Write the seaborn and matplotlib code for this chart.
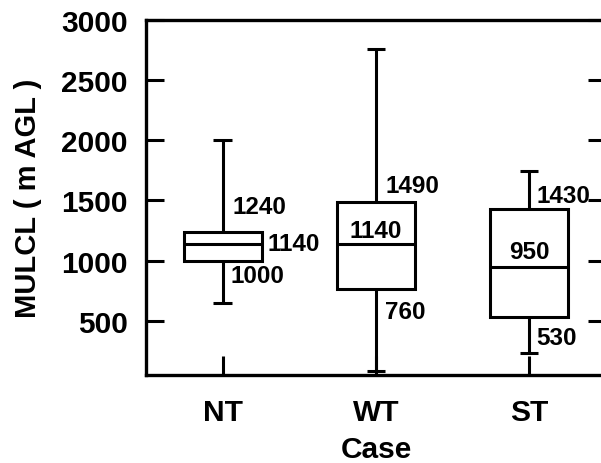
import matplotlib
matplotlib.use("Agg")
import matplotlib.pyplot as plt
import seaborn as sns
import pandas as pd

# Five-number summaries per case: whisker low, Q1, median, Q3, whisker high
cases = ["NT", "WT", "ST"]
nt_vals = [650, 1000, 1140, 1240, 2000]
wt_vals = [80, 760, 1140, 1490, 2760]
st_vals = [230, 530, 950, 1430, 1740]

# Which summary values get printed next to each box, and where (pixel offsets, alignment)
label_specs = {
    "NT": [(1240, 10, 25, "left"), (1140, 45, 0, "left"), (1000, 8, -15, "left")],
    "WT": [(1490, 10, 16, "left"), (1140, 0, 13, "center"), (760, 9, -22, "left")],
    "ST": [(1430, 7, 13, "left"), (950, 0, 15, "center"), (530, 7, -20, "left")],
}

y_ticks = [500, 1000, 1500, 2000, 2500, 3000]

BOX_WIDTH = 0.51
CAP_WIDTH = 0.12
LINE_W = 2.2

sns.set_style("white")
plt.rcParams["font.family"] = ["Liberation Sans", "DejaVu Sans"]
plt.rcParams["font.weight"] = "bold"

groups = [nt_vals, wt_vals, st_vals]
df = pd.DataFrame({
    "Case": [c for c, v in zip(cases, groups) for _ in v],
    "MULCL": nt_vals + wt_vals + st_vals,
})

fig = plt.figure(figsize=(6.01, 4.64), dpi=100)
ax = fig.add_axes([0.243, 0.19, 0.765, 0.765])

sns.boxplot(
    data=df, x="Case", y="MULCL", order=cases,
    whis=(0, 100), width=BOX_WIDTH, color="white", linecolor="black",
    linewidth=LINE_W, saturation=1, fliersize=0, showcaps=False, ax=ax,
)

# Short whisker caps at each group's extremes
for i, vals in enumerate(groups):
    ax.hlines([min(vals), max(vals)], i - CAP_WIDTH / 2, i + CAP_WIDTH / 2,
              colors="black", linewidth=LINE_W, zorder=3)

ax.set_ylim(50, 3000)
ax.set_xlim(-0.5, 2.5)
ax.set_yticks(y_ticks)
ax.set_yticklabels([str(t) for t in y_ticks], fontsize=21.5, fontweight="bold")
ax.set_xticks(range(len(cases)))
ax.set_xticklabels(cases, fontsize=21.5, fontweight="bold")

ax.tick_params(axis="y", direction="in", length=13, width=2.2, pad=13,
               left=True, right=True, colors="black")
ax.tick_params(axis="x", direction="in", length=14, width=2.2, pad=17,
               bottom=True, colors="black")

for side in ["left", "right", "top", "bottom"]:
    ax.spines[side].set_visible(True)
    ax.spines[side].set_linewidth(2.4)
    ax.spines[side].set_color("black")

ax.set_ylabel("MULCL ( m AGL )", fontsize=21, fontweight="bold",
              color="black", labelpad=14)
ax.set_xlabel("Case", fontsize=21.5, fontweight="bold", color="black",
              labelpad=6)

for i, case in enumerate(cases):
    for val, dx, dy, ha in label_specs[case]:
        ax.annotate(
            str(val), xy=(i, val), xytext=(dx * 0.72, dy * 0.72),
            textcoords="offset points", ha=ha, va="center",
            fontsize=17.5, fontweight="bold", color="black",
        )

fig.savefig("out.png", dpi=100)
